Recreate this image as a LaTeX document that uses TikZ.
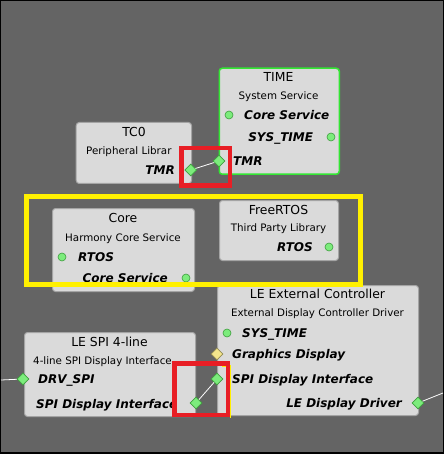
\documentclass[tikz,border=0pt]{standalone}
\usepackage{fontspec}
\setmainfont{DejaVu Sans}
\usetikzlibrary{shapes.geometric}
\definecolor{bg}{HTML}{646464}
\definecolor{boxfill}{HTML}{DADADA}
\definecolor{boxedge}{HTML}{A4A4A4}
\definecolor{portgreen}{HTML}{7CEC7C}
\definecolor{portedge}{HTML}{3E9E3E}
\definecolor{portyellow}{HTML}{F4E68C}
\definecolor{timegreen}{HTML}{33E633}
\definecolor{hlred}{HTML}{E81E25}
\definecolor{hlyellow}{HTML}{FFF000}
\begin{document}
\begin{tikzpicture}[x=1pt,y=-1pt,
  box/.style={draw=boxedge, fill=boxfill, line width=1pt, rounded corners=3pt, anchor=north west, inner sep=0pt},
  ttl/.style={font=\fontsize{12.4}{14}\selectfont, anchor=base, inner sep=0pt},
  sub/.style={font=\fontsize{10.3}{12}\selectfont, anchor=base, inner sep=0pt},
  lab/.style={font=\fontsize{12}{14}\selectfont\bfseries\itshape, inner sep=0pt},
  dot/.style={circle, minimum size=8pt, inner sep=0pt, fill=portgreen, draw=portedge, line width=0.6pt},
  port/.style={diamond, minimum size=12pt, inner sep=0pt, fill=portgreen, draw=portedge, line width=0.6pt},
  yport/.style={port, fill=portyellow, draw=portyellow!60!black},
  wire/.style={draw=white, line width=0.8pt},
  hl/.style={draw=hlred, line width=4.5pt},
  hly/.style={draw=hlyellow, line width=5pt}]
\useasboundingbox (0,0) rectangle (444,454);
\fill[black] (0,0) rectangle (444,454);
\fill[bg] (1,1) rectangle (443,452);

% TIME
\node[box, draw=timegreen, line width=1.5pt, minimum width=120pt, minimum height=106pt] (time) at (218.5,67.5) {};
\node[ttl] (timeT) at (278.5,81.5) {TIME};
\node[sub] (timeS) at (278.5,99.8) {System Service};
\node[lab, anchor=base west] (timeCS) at (244,119.4) {Core Service};
\node[dot] (timeCSd) at (229,115) {};
\node[lab, anchor=base east] (timeST) at (313.3,141.4) {SYS\_TIME};
\node[dot] (timeSTd) at (331,137) {};
\node[lab, anchor=base west] (timeTMR) at (233,165.4) {TMR};
\node[port] (timeTMRd) at (219,161) {};

% TC0
\node[box, minimum width=115.3pt, minimum height=61pt] (tc0) at (75.7,122) {};
\node[ttl] (tc0T) at (134,136.5) {TC0};
\node[sub, anchor=base west] (tc0S) at (86,154.8) {Peripheral Librar};
\node[lab, anchor=base east] (tc0TMR) at (175,174.4) {TMR};
\node[port] (tc0TMRd) at (190.7,170) {};

% Core
\node[box, minimum width=142pt, minimum height=83pt] (core) at (52,208) {};
\node[ttl] (coreT) at (123,222.5) {Core};
\node[sub] (coreS) at (123,241.5) {Harmony Core Service};
\node[dot] (coreRd) at (62,257) {};
\node[lab, anchor=base west] (coreR) at (78,261.4) {RTOS};
\node[lab, anchor=base east] (coreCS) at (168,282.4) {Core Service};
\node[dot] (coreCSd) at (186,278) {};

% FreeRTOS
\node[box, minimum width=119pt, minimum height=60pt] (frt) at (219,200) {};
\node[ttl] (frtT) at (278.5,214.5) {FreeRTOS};
\node[sub] (frtS) at (278.5,231.8) {Third Party Library};
\node[lab, anchor=base east] (frtR) at (313,251.4) {RTOS};
\node[dot] (frtRd) at (329,247) {};

% LE External Controller
\node[box, minimum width=201pt, minimum height=130pt] (ext) at (217,285) {};
\node[ttl] (extT) at (317.5,298.5) {LE External Controller};
\node[sub] (extS) at (317.5,316.8) {External Display Controller Driver};
\node[dot] (extSTd) at (227,333) {};
\node[lab, anchor=base west] (extST) at (242,337.4) {SYS\_TIME};
\node[yport] (extGDd) at (217,354) {};
\node[lab, anchor=base west] (extGD) at (232,358.4) {Graphics Display};
\node[port] (extSPId) at (217,379) {};
\node[lab, anchor=base west] (extSPI) at (232,383.4) {SPI Display Interface};
\node[lab, anchor=base east] (extLD) at (402,407.4) {LE Display Driver};
\node[port] (extLDd) at (418,403) {};

% LE SPI 4-line
\node[box, minimum width=171pt, minimum height=84pt] (spi) at (24,332) {};
\node[ttl] (spiT) at (109.5,346.5) {LE SPI 4-line};
\node[sub, anchor=base west] (spiS) at (33,364.8) {4-line SPI Display Interface};
\node[port] (spiDRVd) at (23,379) {};
\node[lab, anchor=base west] (spiDRV) at (38,383.4) {DRV\_SPI};
\node[lab, anchor=base west] (spiSPI) at (36,408.4) {SPI Display Interface};
\node[port] (spiSPId) at (196,403) {};

% wires
\coordinate (leftend) at (1,380);
\coordinate (rightend) at (443,393);
\draw[wire] (tc0TMRd) -- (timeTMRd);
\draw[wire] (spiSPId) -- (extSPId);
\draw[wire] (leftend) -- (spiDRVd);
\draw[wire] (extLDd) -- (rightend);

% highlights
\draw[hly] (26.5,196.5) rectangle (360.5,284.5);
\draw[hlyellow, line width=1.5pt] (222,366) -- (230.3,366) -- (230.3,418);
\draw[hl] (181.25,148.25) rectangle (229.75,185.75);
\draw[hl] (174.25,363.25) rectangle (227.75,414.75);
\end{tikzpicture}
\end{document}
